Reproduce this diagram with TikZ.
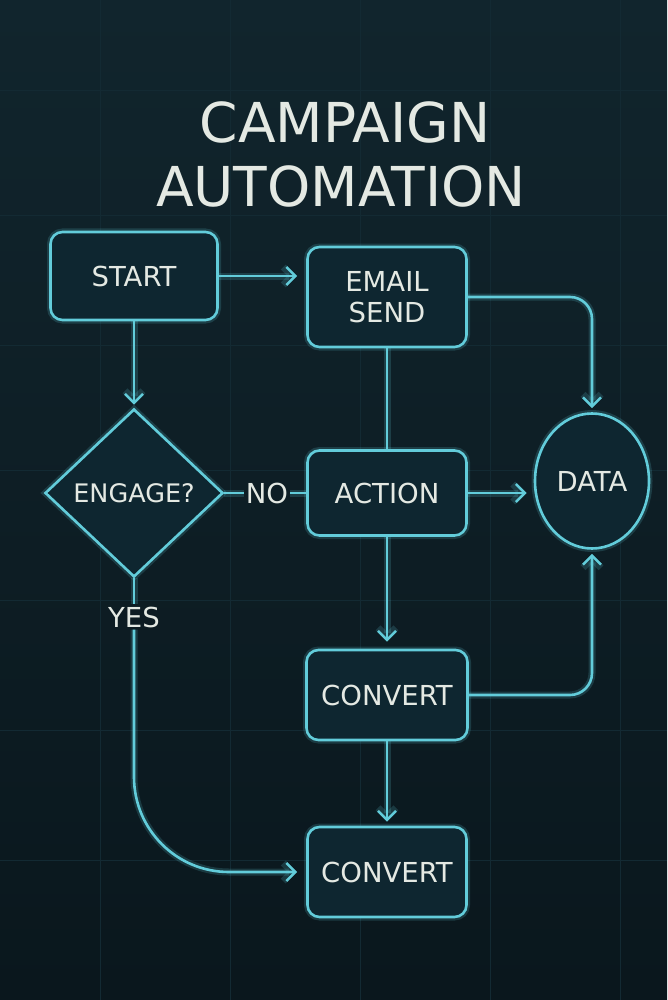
\documentclass[tikz,border=0pt]{standalone}
\usepackage{fontspec}
\setmainfont{DejaVu Sans}
\usetikzlibrary{arrows.meta,shapes.geometric}
\definecolor{bgtop}{HTML}{11252D}
\definecolor{bgbot}{HTML}{0A171D}
\definecolor{gridc}{HTML}{132A33}
\definecolor{neon}{HTML}{62CCDA}
\definecolor{boxfill}{HTML}{0E2630}
\definecolor{txt}{HTML}{E4E9E3}
\tikzset{
  glow/.style={preaction={draw=neon,line width=7pt,opacity=0.18}},
  box/.style={draw=neon,line width=2.6pt,rounded corners=12pt,fill=boxfill,
    text=txt,font=\fontsize{27.5}{33}\selectfont,align=center,glow},
  shapeline/.style={draw=neon,line width=2.6pt,fill=boxfill,glow},
  lbl/.style={text=txt,font=\fontsize{27.5}{33}\selectfont,inner sep=2pt},
  conn/.style={draw=neon,line width=2.6pt,glow},
  arr/.style={conn,-{Straight Barb[length=9pt,width=18pt]}},
  ttl/.style={text=txt,font=\fontsize{55}{66}\selectfont}
}
\begin{document}
\begin{tikzpicture}[x=1pt,y=-1pt]
\useasboundingbox (0,0) rectangle (667,1000);
\shade[top color=bgtop,bottom color=bgbot] (0,0) rectangle (667,1000);
\foreach \gx in {100,230,360,490,620} \draw[gridc,line width=0.8pt] (\gx,0) -- (\gx,1000);
\foreach \gy in {90,215,345,470,600,730,860} \draw[gridc,line width=0.8pt] (0,\gy) -- (667,\gy);

\node[ttl] (t1) at (345,122) {CAMPAIGN};
\node[ttl] (t2) at (341,186) {AUTOMATION};

\node[box,minimum width=167pt,minimum height=88pt] (start) at (134,276) {START};
\node[box,minimum width=159pt,minimum height=100pt] (email) at (387,297) {EMAIL\\[-2pt]SEND};
\node[shapeline,diamond,minimum width=178pt,minimum height=168pt,inner sep=0pt] (eng) at (134,493) {};
\node[lbl,font=\fontsize{25.5}{30}\selectfont] (englbl) at (eng.center) {ENGAGE?};
\node[box,minimum width=159pt,minimum height=85pt] (action) at (387,493) {ACTION};
\node[shapeline,ellipse,minimum width=114pt,minimum height=135pt,inner sep=0pt] (data) at (592,481) {};
\node[lbl] (datalbl) at (data.center) {DATA};
\node[box,minimum width=161pt,minimum height=90pt] (conv1) at (387,695) {CONVERT};
\node[box,minimum width=159pt,minimum height=90pt] (conv2) at (387,872) {CONVERT};
\node[lbl] (no) at (267,493) {NO};
\node[lbl] (yes) at (134,617) {YES};

\draw[arr,shorten >=9pt] (start.east) -- (start.east -| email.west);
\draw[arr,shorten >=3pt] (start.south) -- (eng.north);
\draw[conn] (eng.east) -- (no.west);
\draw[conn] (no.east) -- (action.west);
\draw[conn] (email.south) -- (action.north);
\draw[arr,rounded corners=22pt,shorten >=4pt] (email.east) -| (data.north);
\draw[arr,shorten >=7pt] (action.east) -- (action.east -| data.west);
\draw[arr,shorten >=7pt] (action.south) -- (conv1.north);
\draw[arr,rounded corners=22pt,shorten >=4pt] (conv1.east) -| (data.south);
\draw[arr,shorten >=4pt] (conv1.south) -- (conv2.north);
\draw[conn] (eng.south) -- (yes.north);
\draw[arr,rounded corners=95pt,shorten >=9pt] (yes.south) |- (conv2.west);
\end{tikzpicture}
\end{document}
